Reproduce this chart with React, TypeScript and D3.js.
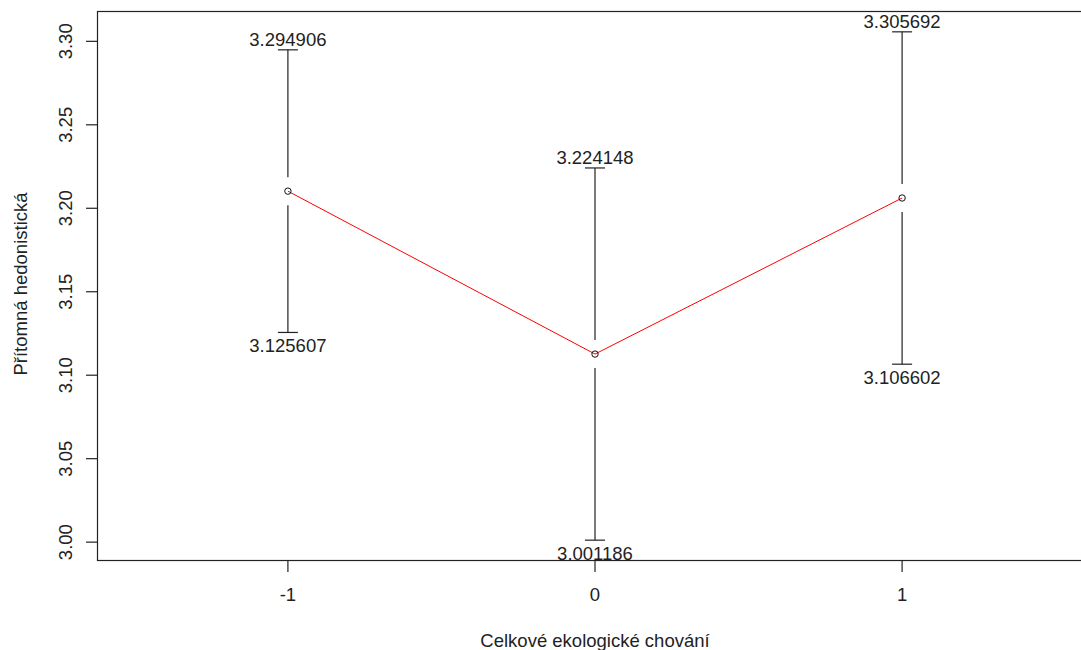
import React from "react";
import * as d3 from "d3";

const categories = [-1, 0, 1];
const upper = [3.294906, 3.224148, 3.305692];
const lower = [3.125607, 3.001186, 3.106602];
const means = [3.2102565, 3.112667, 3.206147];
const yTicks = [3.0, 3.05, 3.1, 3.15, 3.2, 3.25, 3.3];
const xLabel = "Celkové ekologické chování";
const yLabel = "Přítomná hedonistická";

const W = 1081;
const H = 650;
const plotLeft = 97.5;
const plotRight = 1092.5;
const plotTop = 11.5;
const plotBottom = 560.5;

export default function App() {
  const x = d3.scaleLinear().domain([-1.62, 1.62]).range([plotLeft, plotRight]);
  const yMin = d3.min(lower)!;
  const yMax = d3.max(upper)!;
  const pad = (yMax - yMin) * 0.04;
  const y = d3.scaleLinear().domain([yMin - pad, yMax + pad]).range([plotBottom, plotTop]);
  const font = "'Liberation Sans', Arial, sans-serif";
  const fs = 18.5;
  const line = d3
    .line<number>()
    .x((_, i) => x(categories[i]))
    .y((d) => y(d));
  const gap = 14;
  const capW = 10;
  return (
    <svg
      width={W}
      height={H}
      style={{ position: "absolute", left: 0, top: 0, background: "#fff" }}
      fontFamily={font}
      fontSize={fs}
    >
      <rect x={0} y={0} width={W} height={H} fill="#fff" />
      {/* box */}
      <rect
        x={plotLeft}
        y={plotTop}
        width={plotRight - plotLeft}
        height={plotBottom - plotTop}
        fill="none"
        stroke="#222"
        strokeWidth={1.2}
      />
      {/* y axis ticks */}
      {yTicks.map((t) => (
        <g key={t}>
          <line x1={plotLeft - 11.5} x2={plotLeft} y1={y(t)} y2={y(t)} stroke="#222" strokeWidth={1.2} />
          <text
            transform={`translate(72,${y(t)}) rotate(-90)`}
            textAnchor="middle"
            fill="#222"
          >
            {t.toFixed(2)}
          </text>
        </g>
      ))}
      {/* x axis ticks */}
      {categories.map((c) => (
        <g key={c}>
          <line x1={x(c)} x2={x(c)} y1={plotBottom} y2={plotBottom + 11.5} stroke="#222" strokeWidth={1.2} />
          <text x={x(c)} y={601} textAnchor="middle" fill="#222">
            {String(c)}
          </text>
        </g>
      ))}
      {/* axis titles */}
      <text x={595} y={646.5} textAnchor="middle" fill="#222">
        {xLabel}
      </text>
      <text transform={`translate(26.5,284) rotate(-90)`} textAnchor="middle" fill="#222">
        {yLabel}
      </text>
      {/* error bars */}
      {categories.map((c, i) => {
        const cx = x(c);
        const cy = y(means[i]);
        const yu = y(upper[i]);
        const yl = y(lower[i]);
        return (
          <g key={"e" + c} stroke="#222" strokeWidth={1.2}>
            <line x1={cx} x2={cx} y1={yu} y2={cy - gap} />
            <line x1={cx} x2={cx} y1={cy + gap} y2={yl} />
            <line x1={cx - capW} x2={cx + capW} y1={yu} y2={yu} />
            <line x1={cx - capW} x2={cx + capW} y1={yl} y2={yl} />
          </g>
        );
      })}
      {/* mean line */}
      <path d={line(means) || ""} fill="none" stroke="#ff0000" strokeWidth={1} />
      {categories.map((c, i) => (
        <circle key={"p" + c} cx={x(c)} cy={y(means[i])} r={3.2} fill="none" stroke="#111" strokeWidth={1} />
      ))}
      {/* labels */}
      {categories.map((c, i) => (
        <g key={"l" + c} fill="#222">
          <text x={x(c)} y={y(upper[i]) - 10} textAnchor="middle" dominantBaseline="central">
            {upper[i].toFixed(6)}
          </text>
          <text x={x(c)} y={y(lower[i]) + 13} textAnchor="middle" dominantBaseline="central">
            {lower[i].toFixed(6)}
          </text>
        </g>
      ))}
    </svg>
  );
}
